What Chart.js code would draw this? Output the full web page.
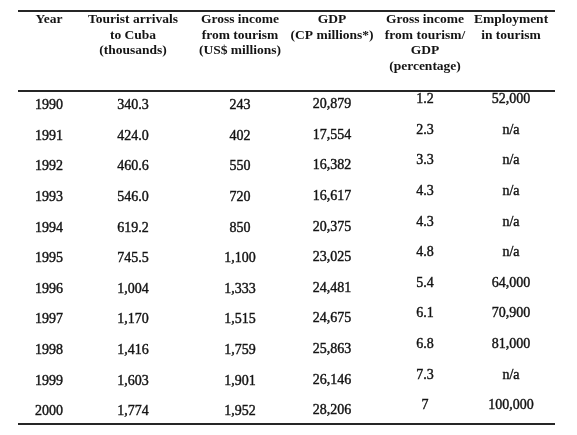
<!DOCTYPE html>
<html>
<head>
<meta charset="utf-8">
<script src="https://cdn.jsdelivr.net/npm/chart.js@4.4.1/dist/chart.umd.min.js"></script>
<style>
    html, body { margin: 0; padding: 0; background: #fff; }
    #wrap { width: 577px; height: 435px; position: relative; }
</style>
</head>
<body>
<div id="wrap"><canvas id="tourism-table"></canvas></div>
<script>
// table data
const years = [1990, 1991, 1992, 1993, 1994, 1995, 1996, 1997, 1998, 1999, 2000];
const arrivals = [340.3, 424.0, 460.6, 546.0, 619.2, 745.5, 1004, 1170, 1416, 1603, 1774];
const grossIncome = [243, 402, 550, 720, 850, 1100, 1333, 1515, 1759, 1901, 1952];
const gdp = [20879, 17554, 16382, 16617, 20375, 23025, 24481, 24675, 25863, 26146, 28206];
const incomeShare = [1.2, 2.3, 3.3, 4.3, 4.3, 4.8, 5.4, 6.1, 6.8, 7.3, 7];
const employment = [52000, null, null, null, null, null, 64000, 70900, 81000, null, 100000];

const headers = [
    ['Year'],
    ['Tourist arrivals', 'to Cuba', '(thousands)'],
    ['Gross income', 'from tourism', '(US$ millions)'],
    ['GDP', '(CP millions*)'],
    ['Gross income', 'from tourism/', 'GDP', '(percentage)'],
    ['Employment', 'in tourism']
];

// layout / style
const colCenters = [31, 115, 222, 314, 407, 493];   // table units, width 537
const colShiftY = [0, 0, 0, -1, -6, -6];
const topRuleY = 11;
const bottomRuleInset = 3;
const headerFirstY = 20;
const headerLineH = 15.4;
const ink = '#141414';
const ruleColor = '#262626';

const fmtThousands = (v) => v.toLocaleString('en-US');
const columns = [
    years.map(String),
    arrivals.map(v => v < 1000 ? v.toFixed(1) : fmtThousands(v)),
    grossIncome.map(fmtThousands),
    gdp.map(fmtThousands),
    incomeShare.map(String),
    employment.map(v => v === null ? 'n/a' : fmtThousands(v))
];

const tablePlugin = {
    id: 'tablePlugin',
    afterDatasetsDraw(chart) {
        const ctx = chart.ctx;
        const area = chart.chartArea;
        const x = chart.scales.x;
        ctx.save();

        // rules
        ctx.strokeStyle = ruleColor;
        ctx.lineWidth = 2;
        [topRuleY, area.top + 1, area.bottom - bottomRuleInset].forEach(y => {
            ctx.beginPath();
            ctx.moveTo(area.left, y);
            ctx.lineTo(area.right, y);
            ctx.stroke();
        });

        ctx.fillStyle = ink;
        ctx.strokeStyle = ink;
        ctx.textAlign = 'center';
        ctx.textBaseline = 'middle';

        // header
        ctx.font = 'bold 13.5px "Liberation Serif", "Times New Roman", serif';
        headers.forEach((lines, c) => {
            const cx = x.getPixelForValue(colCenters[c]);
            lines.forEach((t, i) => ctx.fillText(t, cx, headerFirstY + i * headerLineH));
        });

        // cells (slight stroke to match the heavier print)
        ctx.font = '14px "Liberation Serif", "Times New Roman", serif';
        ctx.lineWidth = 0.4;
        chart.data.datasets.forEach((ds, c) => {
            const meta = chart.getDatasetMeta(c);
            meta.data.forEach((pt, i) => {
                ctx.fillText(ds.cellText[i], pt.x, pt.y + colShiftY[c]);
                ctx.strokeText(ds.cellText[i], pt.x, pt.y + colShiftY[c]);
            });
        });
        ctx.restore();
    }
};

const datasets = columns.map((texts, c) => ({
    label: headers[c].join(' '),
    data: years.map(yr => ({ x: colCenters[c], y: String(yr) })),
    cellText: texts,
    pointRadius: 0,
    pointHoverRadius: 0,
    showLine: false
}));

new Chart(document.getElementById('tourism-table'), {
    type: 'scatter',
    data: { datasets: datasets },
    options: {
        responsive: true,
        maintainAspectRatio: false,
        animation: false,
        events: [],
        plugins: {
            legend: { display: false },
            title: { display: false },
            tooltip: { enabled: false }
        },
        scales: {
            x: { type: 'linear', min: 0, max: 537, display: false },
            y: { type: 'category', labels: years.map(String), offset: true, display: false }
        },
        layout: { padding: { left: 18, right: 22, top: 90, bottom: 8 } }
    },
    plugins: [tablePlugin]
});
</script>
</body>
</html>
